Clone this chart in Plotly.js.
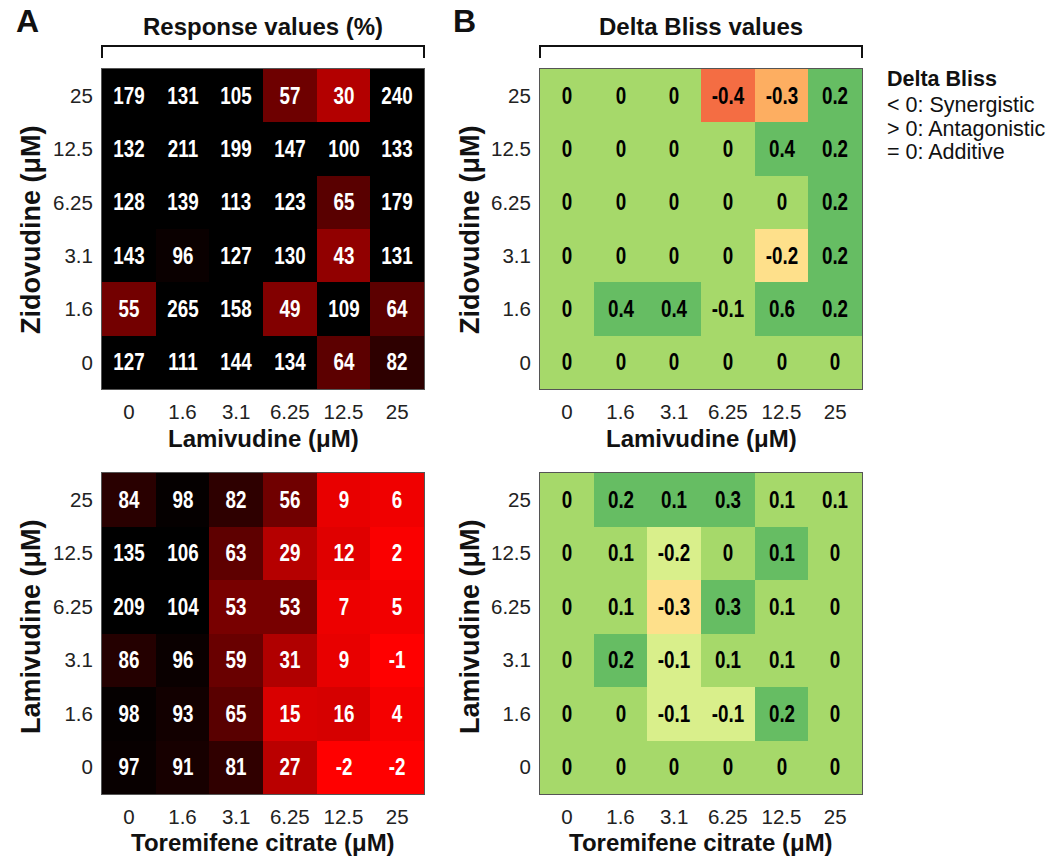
<!DOCTYPE html>
<html><head><meta charset="utf-8">
<script src="https://cdn.plot.ly/plotly-3.0.1.min.js"></script>
<style>body{margin:0;background:#fff}#chart{width:1064px;height:856px}</style>
</head><body><div id="chart"></div>
<script>
// Dose levels (µM), used for both axes of every panel
const doses = ['0','1.6','3.1','6.25','12.5','25'];

// Response values (%) — rows listed from dose 0 (bottom) to dose 25 (top)
const respZidLam = [
  [127,111,144,134,64,82],
  [55,265,158,49,109,64],
  [143,96,127,130,43,131],
  [128,139,113,123,65,179],
  [132,211,199,147,100,133],
  [179,131,105,57,30,240]
];
const respLamTor = [
  [97,91,81,27,-2,-2],
  [98,93,65,15,16,4],
  [86,96,59,31,9,-1],
  [209,104,53,53,7,5],
  [135,106,63,29,12,2],
  [84,98,82,56,9,6]
];

// Delta Bliss values (estimated underlying values; labels show them rounded to 0.1)
const blissZidLam = [
  [0,0,0,0,0,0],
  [0,0.4,0.4,-0.06,0.6,0.2],
  [0,0,0,0,-0.2,0.2],
  [0,0,0,0,0,0.2],
  [0,0,0,0,0.4,0.2],
  [0,0,0,-0.4,-0.31,0.2]
];
const blissLamTor = [
  [0,0,0,0,0,0],
  [0,0,-0.12,-0.12,0.2,0],
  [0,0.2,-0.12,0.06,0.06,0],
  [0,0.06,-0.26,0.3,0.06,0],
  [0,0.06,-0.16,0,0.14,0],
  [0,0.2,0.14,0.3,0.06,0.06]
];

const panelTitles = ['Response values (%)', 'Delta Bliss values'];
const legendTitle = 'Delta Bliss';
const legendLines = ['< 0: Synergistic', '> 0: Antagonistic', '= 0: Additive'];
const topYTitle = 'Zidovudine (μM)';
const topXTitle = 'Lamivudine (μM)';
const botYTitle = 'Lamivudine (μM)';
const botXTitle = 'Toremifene citrate (μM)';

// ---- styling / geometry ----
const W = 1064, H = 856;
const px = x => x / W, py = y => 1 - y / H;
const FONT = 'Liberation Sans, Arial, sans-serif';

// Response colour: red at 0 → black at 100
const respScale = [[0,'#ff0000'],[1,'#000000']];
// Delta Bliss stepped colour scale
const bZmin = -0.5, bZmax = 0.7;
const bBreaks = [-0.35,-0.28,-0.18,-0.08,0.1];
const bColors = ['#f46d43','#fdae61','#fee08b','#d9ef8b','#a6d96a','#66bd63'];
const blissScale = [];
{
  let prev = 0;
  bColors.forEach((c,i) => {
    const next = i < bBreaks.length ? (bBreaks[i]-bZmin)/(bZmax-bZmin) : 1;
    blissScale.push([prev,c]); blissScale.push([next,c]);
    prev = next;
  });
}
const fmtBliss = v => { const r = Math.round(v*10)/10; return r === 0 ? '0' : r.toFixed(1); };

function hm(z, xa, ya, kind){
  const isResp = kind === 'resp';
  return {
    type:'heatmap', x:doses, y:doses, z:z, xaxis:xa, yaxis:ya,
    text: z.map(r => r.map(v => isResp ? String(v) : fmtBliss(v))),
    texttemplate:'<b>%{text}</b>',
    textfont:{family:FONT, size:23.5, color: isResp ? '#ffffff' : '#000000'},
    colorscale: isResp ? respScale : blissScale,
    zmin: isResp ? 0 : bZmin, zmax: isResp ? 100 : bZmax,
    showscale:false, hoverinfo:'skip', xgap:0, ygap:0
  };
}

const data = [
  hm(respZidLam,'x','y','resp'),
  hm(blissZidLam,'x2','y2','bliss'),
  hm(respLamTor,'x3','y3','resp'),
  hm(blissLamTor,'x4','y4','bliss')
];

const LX = [102,424], RX = [540,862];
const TY = [69,389], BY = [473,794];
const axBase = {
  type:'category', showgrid:false, zeroline:false, ticks:'',
  showline:true, mirror:true, linecolor:'#555', linewidth:1,
  tickfont:{family:FONT, size:20.5, color:'#222'}, fixedrange:true
};
function xa(dom, anchor){ return Object.assign({}, axBase, {domain:[px(dom[0]),px(dom[1])], anchor:anchor, ticklabelstandoff:4}); }
function ya(dom, anchor){ return Object.assign({}, axBase, {domain:[py(dom[1]),py(dom[0])], anchor:anchor, ticklabelstandoff:4}); }

const ann = [];
function txt(t, x, y, size, bold, opts){
  ann.push(Object.assign({text: bold ? '<b>'+t+'</b>' : t, x:px(x), y:py(y), xref:'paper', yref:'paper',
    showarrow:false, font:{family:FONT, size:size, color:'#111'}, xanchor:'center', yanchor:'middle'}, opts||{}));
}
txt('A', 27, 21, 32, true);
txt('B', 464, 21, 32, true);
txt(panelTitles[0], (LX[0]+LX[1])/2, 27, 24, true);
txt(panelTitles[1], (RX[0]+RX[1])/2, 27, 24, true);
// y titles
txt(topYTitle, 31, 230, 27, true, {textangle:-90});
txt(topYTitle, 470, 230, 27, true, {textangle:-90});
txt(botYTitle, 31, 627, 27, true, {textangle:-90});
txt(botYTitle, 470, 627, 27, true, {textangle:-90});
// x titles
txt(topXTitle, (LX[0]+LX[1])/2, 438, 24, true);
txt(topXTitle, (RX[0]+RX[1])/2, 438, 24, true);
txt(botXTitle, (LX[0]+LX[1])/2, 842, 24, true);
txt(botXTitle, (RX[0]+RX[1])/2, 842, 24, true);
// legend
txt(legendTitle, 885, 79, 21.5, true, {xanchor:'left'});
legendLines.forEach((l,i) => txt(l, 885, 105 + i*23.5, 21.5, false, {xanchor:'left'}));

function bracket(x0, x1){
  return {type:'path', xref:'paper', yref:'paper',
    path:`M ${px(x0)} ${py(58)} L ${px(x0)} ${py(46)} L ${px(x1)} ${py(46)} L ${px(x1)} ${py(58)}`,
    line:{color:'#111', width:2}};
}

const layout = {
  width:W, height:H, margin:{l:0,r:0,t:0,b:0},
  paper_bgcolor:'#fff', plot_bgcolor:'#fff', showlegend:false,
  xaxis: xa(LX,'y'), yaxis: ya(TY,'x'),
  xaxis2: xa(RX,'y2'), yaxis2: ya(TY,'x2'),
  xaxis3: xa(LX,'y3'), yaxis3: ya(BY,'x3'),
  xaxis4: xa(RX,'y4'), yaxis4: ya(BY,'x4'),
  annotations: ann,
  shapes: [bracket(LX[0],LX[1]), bracket(RX[0],RX[1])]
};

Plotly.newPlot('chart', data, layout, {displayModeBar:false, staticPlot:true}).then(gd => {
  // cell labels in the reference use a narrow bold face: condense them horizontally
  gd.querySelectorAll('.heatmaplayer text').forEach(t => {
    const b = t.getBBox(); const cx = b.x + b.width/2;
    const prev = t.getAttribute('transform') || '';
    t.setAttribute('transform', prev + ` translate(${cx},0) scale(0.8,1) translate(${-cx},0)`);
  });
});
</script>
</body></html>
